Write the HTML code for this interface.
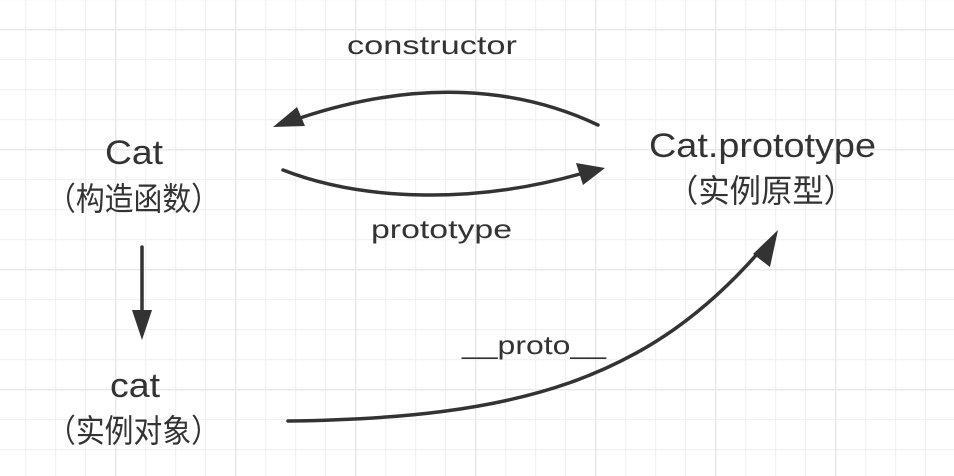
<!DOCTYPE html>
<html><head><meta charset="utf-8"><style>
html,body{margin:0;padding:0;background:#fff;}
svg{display:block}
text{fill:#333;}
.l{font-family:"Liberation Sans","Noto Sans CJK SC",sans-serif;}
</style></head><body>
<svg width="954" height="476" viewBox="0 0 954 476" xmlns="http://www.w3.org/2000/svg">
<defs>
<pattern id="g" x="25" y="29" width="30" height="30" patternUnits="userSpaceOnUse">
<path d="M0.5 0V30M0 0.5H30" stroke="#f2f2f2" stroke-width="1.5" fill="none"/>
</pattern>
<pattern id="G" x="115" y="149" width="120" height="120" patternUnits="userSpaceOnUse">
<path d="M0.5 0V120M0 0.5H120" stroke="#eaeaea" stroke-width="2" fill="none"/>
</pattern>
</defs>
<rect width="954" height="476" fill="url(#g)"/>
<rect width="954" height="476" fill="url(#G)"/>

<g fill="none" stroke="#333" stroke-width="3.5" stroke-linecap="round">
<path d="M598,125 C520,88 420,78 300,118"/>
<path d="M283,170 C360,200 470,205 580,174"/>
<path d="M142,247 V315"/>
<path d="M288,421 C520,418 650,380 765,245"/>
</g>
<g fill="#333">
<polygon points="273,127 297,107 305,126"/>
<polygon points="605,168 576,163 583,185"/>
<polygon points="142,340 132,310 152,310"/>
<polygon points="778,230 753,254 770,267"/>
</g>

<g class="l" font-size="34">
<text x="105" y="164" textLength="58" lengthAdjust="spacingAndGlyphs">Cat</text>
<text x="47" y="210" font-size="32" textLength="173" lengthAdjust="spacingAndGlyphs">（构造函数）</text>
<text x="110" y="397" textLength="50" lengthAdjust="spacingAndGlyphs">cat</text>
<text x="47" y="442" font-size="32" textLength="173" lengthAdjust="spacingAndGlyphs">（实例对象）</text>
<text x="649" y="157" textLength="227" lengthAdjust="spacingAndGlyphs">Cat.prototype</text>
<text x="667" y="202" font-size="32" textLength="188" lengthAdjust="spacingAndGlyphs">（实例原型）</text>
</g>
<g class="l" font-size="26">
<text x="347" y="54" textLength="170" lengthAdjust="spacingAndGlyphs">constructor</text>
<text x="371" y="238" textLength="141" lengthAdjust="spacingAndGlyphs">prototype</text>
<text x="462" y="354" textLength="144" lengthAdjust="spacingAndGlyphs">__proto__</text>
</g>
</svg>
</body></html>
